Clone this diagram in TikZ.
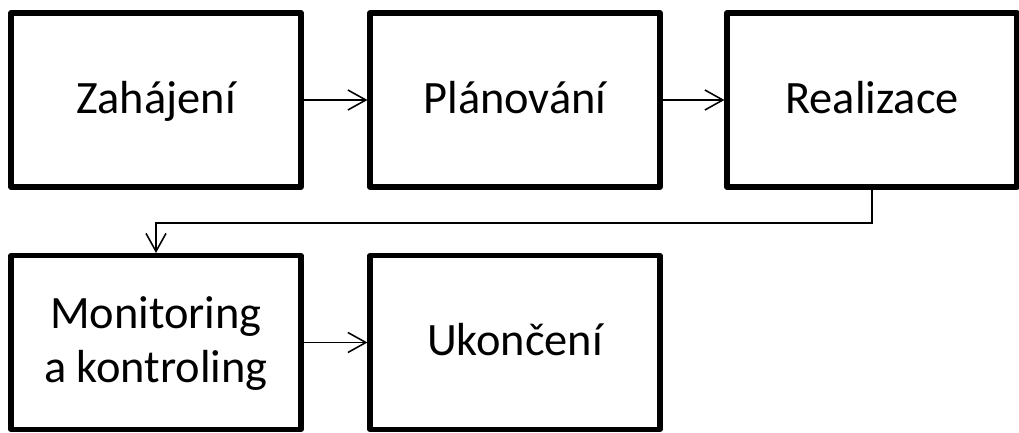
\documentclass[tikz,border=0pt]{standalone}
\usepackage{fontspec}
\setmainfont{Carlito}
\usetikzlibrary{arrows.meta}

\tikzset{
    phase/.style={
        draw,
        line width=3.6pt,
        line join=round,
        minimum width=7.25cm,
        minimum height=4.35cm,
        align=center,
        text height=0.95cm,
        text depth=0.3cm,
        font=\fontsize{33}{38}\selectfont,
    },
    flow/.style={
        line width=1.1pt,
        -{Straight Barb[length=4.5mm, width=5mm, line width=1.1pt]},
    },
}

\begin{document}
\begin{tikzpicture}

\useasboundingbox (0,0) rectangle (25.475,-10.825);

% Phases, first row
\node [phase] (Start) at (3.9,-2.5) {Zahájení};
\node [phase] (Plan) at (12.875,-2.5) {Plánování};
\node [phase] (Real) at (21.8,-2.5) {Realizace};

% Phases, second row (two lines need the extra height)
\node [phase, text height=2.29cm] (Moni) at (3.9,-8.5625) {Monitoring\\a kontroling};
\node [phase] (Close) at (12.875,-8.5625) {Ukončení};

% Draws arrows
\draw [flow] (Start) -- (Plan);
\draw [flow] (Plan) -- (Real);
\draw [flow] (Real.south) -- ++(0,-0.83) -| (Moni.north);
\draw [flow] (Moni) -- (Close);

\end{tikzpicture}
\end{document}
